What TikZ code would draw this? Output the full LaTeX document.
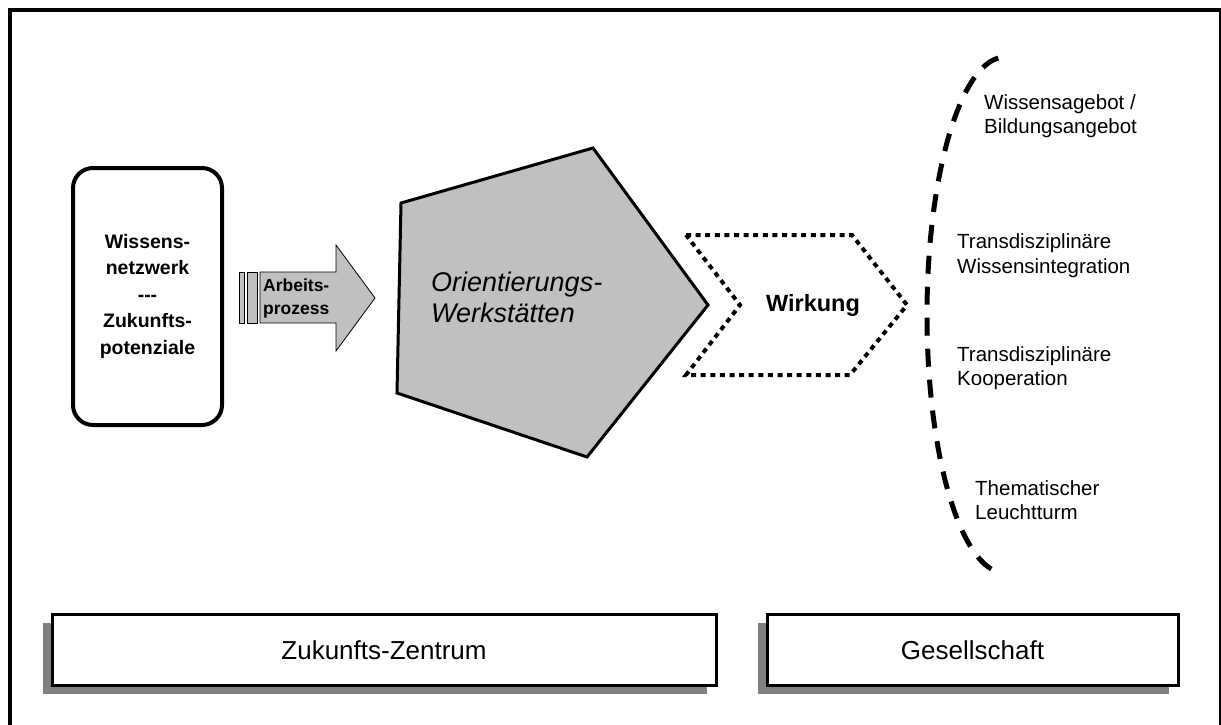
\documentclass[tikz,border=0pt]{standalone}
\usepackage{fontspec}
\setmainfont{Liberation Sans}
\definecolor{shapegray}{HTML}{C0C0C0}
\definecolor{shadowgray}{HTML}{808080}
\tikzset{
  lbl/.style={inner sep=0pt, text=black},
  listitem/.style={lbl, anchor=west, align=left, font=\fontsize{20.5}{24.5}\selectfont},
  bottombox/.style={draw=black, line width=3pt, fill=white},
  shadowbox/.style={fill=shadowgray, draw=none},
}
\begin{document}
\begin{tikzpicture}[x=1pt,y=-1pt]
\clip (0,0) rectangle (1221,724);
\useasboundingbox (0,0) rectangle (1221,724);
\fill[white] (0,0) rectangle (1221,724);
% outer frame
\draw[line width=4pt] (10,10) rectangle (1221,750);

% left rounded box
\draw[line width=4pt, rounded corners=20pt] (73,168) rectangle (222,425);
\node[lbl, align=center, font=\bfseries\fontsize{19.5}{26.5}\selectfont] (netz) at (147.5,296)
  {Wissens-\\netzwerk\\{-}{-}{-}\\Zukunfts-\\potenziale};

% striped arrow
\draw[fill=shapegray, line width=0.8pt] (239,272) rectangle (244,323);
\draw[fill=shapegray, line width=0.8pt] (247,272) rectangle (257,323);
\draw[fill=shapegray, line width=0.8pt] (260,272) -- (336,272) -- (336,245) -- (375,298)
  -- (336,351) -- (336,323) -- (260,323) -- cycle;
\node[lbl, anchor=west, align=left, font=\bfseries\fontsize{17.5}{23}\selectfont] (arb) at (263,298)
  {Arbeits-\\prozess};

% pentagon
\draw[fill=shapegray, line width=3pt, line join=miter] (593,148) -- (708,305) -- (587,457)
  -- (397,393) -- (401,203) -- cycle;
\node[lbl, anchor=west, align=left, font=\itshape\fontsize{27}{31}\selectfont] (orient) at (431,297)
  {Orientierungs-\\Werkstätten};

% dotted chevron
\draw[line width=4pt, dash pattern=on 5pt off 4.6pt] (686,235) -- (852,235) -- (907,305)
  -- (850,375) -- (686,375) -- (740,305) -- cycle;
\node[lbl, font=\bfseries\fontsize{23.5}{27}\selectfont] (wirk) at (813,305) {Wirkung};

% dashed arc
\coordinate (arcstart) at (998.2,58);
\draw[line width=5pt, dash pattern=on 18pt off 13pt] (arcstart)
  arc[start angle=-95, end angle=-265, x radius=78, y radius=258];

% list items
\node[listitem] (l1) at (984,116) {Wissensagebot /\\Bildungsangebot};
\node[listitem] (l2) at (957,255.5) {Transdisziplinäre\\Wissensintegration};
\node[listitem] (l3) at (957,368) {Transdisziplinäre\\Kooperation};
\node[listitem] (l4) at (975,500) {Thematischer\\Leuchtturm};

% bottom boxes
\fill[shadowbox] (43,623) rectangle (707,694);
\draw[bottombox] (52,614) rectangle (716,685);
\node[lbl, font=\fontsize{26}{30}\selectfont] (zz) at (384,650) {Zukunfts-Zentrum};
\fill[shadowbox] (758,623) rectangle (1169,694);
\draw[bottombox] (767,614) rectangle (1178,685);
\node[lbl, font=\fontsize{26}{30}\selectfont] (ges) at (972.5,650) {Gesellschaft};
\end{tikzpicture}
\end{document}
